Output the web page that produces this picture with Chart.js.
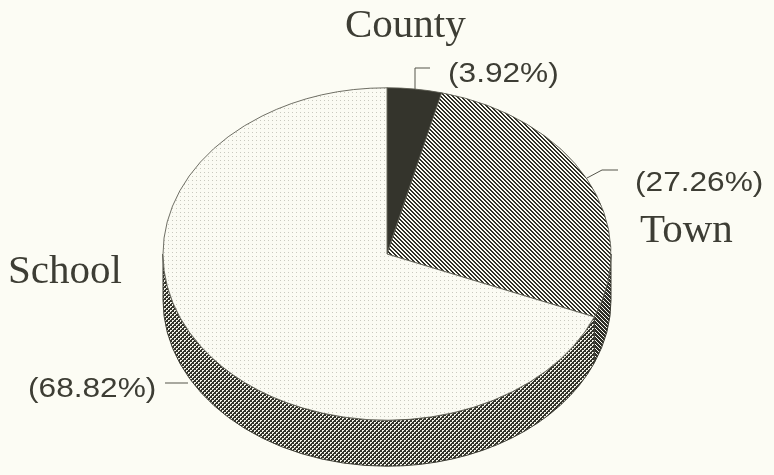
<!DOCTYPE html>
<html>
<head>
<meta charset="utf-8">
<title>Share of spending</title>
<script src="https://cdn.jsdelivr.net/npm/chart.js@4.4.0/dist/chart.umd.min.js"></script>
<style>
  html, body { margin: 0; padding: 0; background: #fcfcf4; }
</style>
</head>
<body>
<canvas id="pieChart" width="774" height="475"></canvas>
<script>
const categories = ['County', 'Town', 'School'];
const shares = [3.92, 27.26, 68.82];
const shareLabels = shares.map((v) => '(' + v.toFixed(2) + '%)');

// look of the tilted pie
const PIE_RADIUS = 224;
const PIE_CENTER_Y = 254;
const TILT = 0.742;
const DEPTH = 46;
const INK = '#3d3d34';
const PAPER = '#fcfcf4';

// where the labels sit (name, percent, leader line)
const labelLayout = [
  { name: [345, 37], pct: [448, 82], leader: [[415, 89], [415, 68], [430, 68]] },
  { name: [640, 242], pct: [635, 191], leader: [[587, 178], [602, 170], [618, 170]] },
  { name: [8, 283], pct: [28, 397], leader: [[188, 383], [165, 383]] },
];

const canvas = document.getElementById('pieChart');
const ctx = canvas.getContext('2d');

// pixel tiles so the fills stay crisp
const pixelPattern = (size, isDark, dark, light) => {
  const tile = document.createElement('canvas');
  tile.width = size;
  tile.height = size;
  const g = tile.getContext('2d');
  for (let y = 0; y < size; y++) {
    for (let x = 0; x < size; x++) {
      g.fillStyle = isDark(x, y) ? dark : light;
      g.fillRect(x, y, 1, 1);
    }
  }
  return ctx.createPattern(tile, 'repeat');
};

const townTop = pixelPattern(4, (x, y) => (x - y + 8) % 4 < 2, '#2f2f28', PAPER);
const townSide = pixelPattern(4, (x, y) => (x - y + 8) % 4 < 3, '#2f2f28', PAPER);
const schoolTop = pixelPattern(4, (x, y) => x === 0 && y === 0, '#c9c9bf', '#fbfbf3');
const schoolSide = pixelPattern(4, (x, y) => (x < 2) !== (y < 2) || (x % 2 === 1 && y % 2 === 1), '#33332b', '#f2f2e8');

const topFills = ['#34342c', townTop, schoolTop];
const sideFills = ['#34342c', townSide, schoolSide];

// parts of an arc that face the viewer (lower half of the ellipse)
const frontRanges = (start, end) => {
  const out = [];
  for (const off of [-2 * Math.PI, 0, 2 * Math.PI]) {
    const a = Math.max(start, off);
    const b = Math.min(end, off + Math.PI);
    if (b > a) out.push([a, b]);
  }
  return out;
};

const drawText = (c, text, x, y, font, stretch) => {
  c.save();
  c.translate(x, y);
  c.scale(stretch, 1);
  c.font = font;
  c.fillText(text, 0, 0);
  c.restore();
};

const pie3d = {
  id: 'pie3d',
  beforeDraw(chart) {
    const c = chart.ctx;
    c.save();
    c.fillStyle = PAPER;
    c.fillRect(0, 0, chart.width, chart.height);
    c.restore();
  },
  beforeDatasetsDraw(chart) {
    const c = chart.ctx;
    const arcs = chart.getDatasetMeta(0).data;
    const cx = arcs[0].x;
    const r = arcs[0].outerRadius;

    c.save();
    arcs.forEach((arc, i) => {
      frontRanges(arc.startAngle, arc.endAngle).forEach(([a, b]) => {
        c.beginPath();
        c.ellipse(cx, PIE_CENTER_Y, r, r * TILT, 0, a, b);
        c.ellipse(cx, PIE_CENTER_Y + DEPTH, r, r * TILT, 0, b, a, true);
        c.closePath();
        c.fillStyle = sideFills[i];
        c.fill();
        c.strokeStyle = INK;
        c.lineWidth = 1;
        c.stroke();
      });
    });
    c.restore();

    // squash the round pie into the top face
    c.save();
    c.translate(cx, PIE_CENTER_Y);
    c.scale(1, TILT);
    c.translate(-cx, -arcs[0].y);
    // keep the top fills in screen pixels
    const inv = c.getTransform().inverse();
    [townTop, schoolTop].forEach((p) => p.setTransform(inv));
  },
  afterDatasetsDraw(chart) {
    chart.ctx.restore();
  },
  afterDraw(chart) {
    const c = chart.ctx;
    c.save();
    c.fillStyle = INK;
    c.strokeStyle = '#55554b';
    c.lineWidth = 1;
    c.textAlign = 'left';
    c.textBaseline = 'alphabetic';
    categories.forEach((name, i) => {
      const spot = labelLayout[i];
      drawText(c, name, spot.name[0], spot.name[1], '41px "Liberation Serif"', 1);
      drawText(c, shareLabels[i], spot.pct[0], spot.pct[1], '28px "Liberation Sans"', 1.13);
      c.beginPath();
      spot.leader.forEach(([x, y], j) => (j ? c.lineTo(x, y) : c.moveTo(x, y)));
      c.stroke();
    });
    c.restore();
  },
};

new Chart(ctx, {
  type: 'pie',
  data: {
    labels: categories,
    datasets: [
      {
        data: shares,
        backgroundColor: topFills,
        borderColor: '#5a5a50',
        borderWidth: 1,
        radius: PIE_RADIUS,
        clip: false,
      },
    ],
  },
  options: {
    responsive: false,
    animation: false,
    events: [],
    plugins: {
      legend: { display: false },
      tooltip: { enabled: false },
    },
  },
  plugins: [pie3d],
});
</script>
</body>
</html>
